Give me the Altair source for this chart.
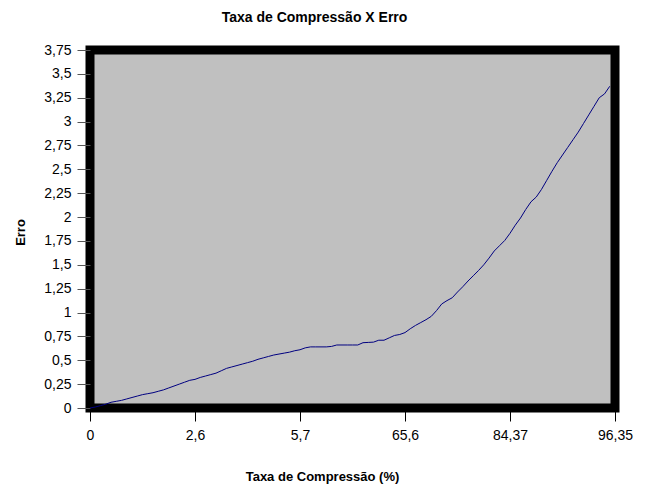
import altair as alt
import pandas as pd

erro = [
    0.00, 0.01, 0.025, 0.04, 0.06, 0.07, 0.08, 0.095, 0.11, 0.125,
    0.14, 0.15, 0.16, 0.175, 0.19, 0.21, 0.23, 0.25, 0.27, 0.29,
    0.30, 0.32, 0.335, 0.35, 0.365, 0.39, 0.415, 0.43, 0.445, 0.46,
    0.475, 0.49, 0.51, 0.525, 0.54, 0.555, 0.565, 0.575, 0.585, 0.60,
    0.61, 0.63, 0.64, 0.64, 0.64, 0.64, 0.645, 0.66, 0.66, 0.66,
    0.66, 0.66, 0.684, 0.687, 0.69, 0.71, 0.71, 0.735, 0.76, 0.77,
    0.79, 0.83, 0.865, 0.895, 0.925, 0.96, 1.02, 1.09, 1.125, 1.155,
    1.215, 1.27, 1.33, 1.385, 1.44, 1.50, 1.57, 1.645, 1.70, 1.755,
    1.83, 1.915, 1.99, 2.08, 2.16, 2.21, 2.29, 2.385, 2.48, 2.57,
    2.65, 2.73, 2.81, 2.89, 2.98, 3.07, 3.16, 3.25, 3.29, 3.37,
]
x_labels = ["0", "2,6", "5,7", "65,6", "84,37", "96,35"]
y_ticks = [0, 0.25, 0.5, 0.75, 1, 1.25, 1.5, 1.75, 2, 2.25, 2.5, 2.75, 3, 3.25, 3.5, 3.75]

df = pd.DataFrame({"idx": list(range(len(erro))), "erro": erro})

step = 20
x_ticks = [i * step for i in range(len(x_labels))]
label_arr = "[" + ",".join("'" + s + "'" for s in x_labels) + "]"

FONT = "Liberation Sans"

chart = (
    alt.Chart(df)
    .mark_line(color="#000080", strokeWidth=1)
    .encode(
        x=alt.X(
            "idx:Q",
            scale=alt.Scale(domain=[0, 100], nice=False, zero=False),
            axis=alt.Axis(
                values=x_ticks,
                labelExpr=label_arr + "[round(datum.value / " + str(step) + ")]",
                title="Taxa de Compressão (%)",
                grid=False,
                domain=False,
                tickSize=13,
                tickColor="black",
                tickWidth=1,
                labelPadding=7,
                labelFont=FONT,
                labelFontSize=14,
                labelColor="black",
                labelFlush=False,
                labelOverlap=False,
                titleFont=FONT,
                titleFontSize=13,
                titleFontWeight="bold",
                titleColor="black",
                titleX=232,
                titleY=68,
                titleAlign="center",
                titleBaseline="middle",
            ),
        ),
        y=alt.Y(
            "erro:Q",
            scale=alt.Scale(domain=[0, 3.75], nice=False, zero=True),
            axis=alt.Axis(
                values=y_ticks,
                labelExpr="replace(format(datum.value, '.2~f'), '.', ',')",
                title="Erro",
                grid=False,
                domain=False,
                tickSize=13,
                tickColor="#555555",
                tickWidth=1,
                labelPadding=6,
                labelFont=FONT,
                labelFontSize=14,
                labelColor="black",
                labelFlush=False,
                labelOverlap=False,
                titleFont=FONT,
                titleFontSize=13,
                titleFontWeight="bold",
                titleColor="black",
                titleAngle=270,
                titleX=-70,
                titleY=182,
                titleAlign="center",
                titleBaseline="middle",
            ),
        ),
    )
    .properties(
        width=525,
        height=358,
        autosize=alt.AutoSizeParams(type="none"),
        padding={"left": 90, "top": 50, "right": 33, "bottom": 79},
        background="white",
        title=alt.TitleParams(
            "Taxa de Compressão X Erro",
            font=FONT,
            fontSize=14,
            fontWeight="bold",
            color="black",
            anchor="middle",
            dx=-38,
            offset=18,
        ),
    )
    .configure_view(fill="#C0C0C0", stroke="black", strokeWidth=9)
)

chart.save("out.html", embed_options={"renderer": "svg", "actions": False})
